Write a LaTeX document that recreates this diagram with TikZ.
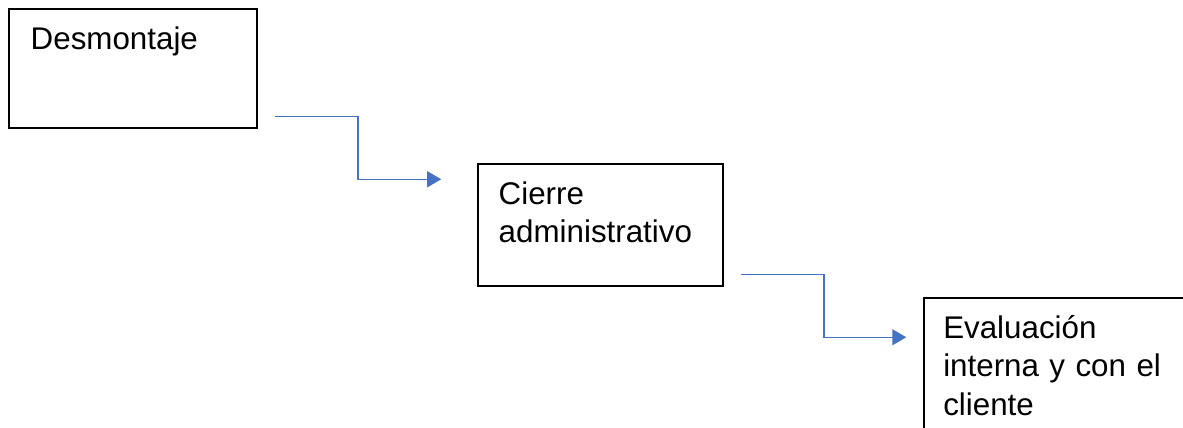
\documentclass[tikz,border=0pt]{standalone}
\usepackage{fontspec}
\setmainfont{Liberation Sans}
\usepackage{tikz}
\usetikzlibrary{matrix,arrows.meta,calc}

\definecolor{azul}{HTML}{4472C4}

\begin{document}
\begin{tikzpicture}[
    flecha/.style={draw=azul, line width=1.1pt, -{Triangle[length=10.5pt,width=12pt]}}
  ]
    \useasboundingbox (0,0) rectangle (887.25pt,-321pt);

    %\matrix[matrix of nodes,nodes={draw}] {
    \matrix (m) [matrix of nodes, anchor=north west, inner sep=0pt,
        column sep=0pt, row sep=0pt,
        nodes={rectangle, draw, line width=1.5pt, align=left,
            inner ysep=0pt, text height=30pt,
            font=\fontsize{23.5pt}{28.9pt}\selectfont} ] at (6pt,-6pt) {
            |[inner xsep=16.1pt, text width=153.75pt, text depth=59.25pt]| Desmontaje &[164.25pt] &[149.25pt] \\[25.5pt]
            & |[inner xsep=15.4pt, text width=153pt, text depth=61.5pt]| Cierre\newline administrativo & \\[7.5pt]
            & & |[inner xsep=14.25pt, text width=196.5pt, text depth=105pt]| Evaluación\newline interna y con el\newline cliente \\
    };

    \coordinate (s1) at ([xshift=12.75pt, yshift=9.75pt]m-1-1.south east);
    \coordinate (e1) at ([xshift=-27pt, yshift=-12pt]m-2-2.north west);
    \coordinate (s2) at ([xshift=12.75pt, yshift=9.75pt]m-2-2.south east);
    \coordinate (e2) at ([xshift=-12.75pt, yshift=-30pt]m-3-3.north west);

    \draw[flecha] (s1) -| ($(s1)!.5!(e1)$) |- (e1);
    \draw[flecha] (s2) -| ($(s2)!.5!(e2)$) |- (e2);
\end{tikzpicture}
\end{document}
